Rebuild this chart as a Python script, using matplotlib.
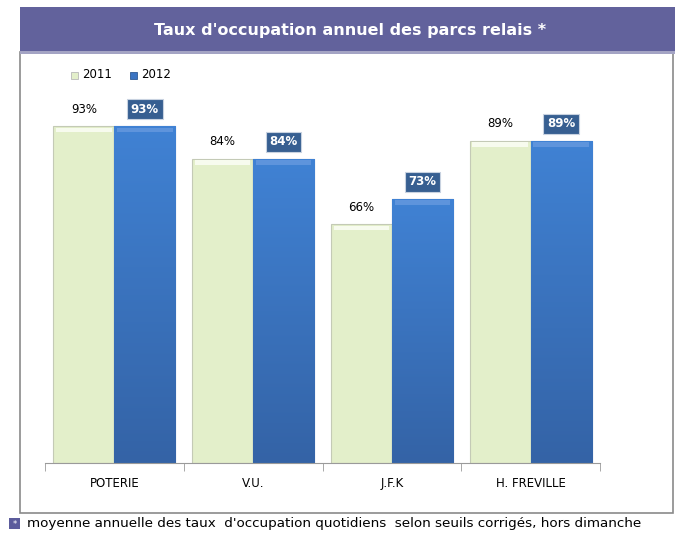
import numpy as np
import matplotlib
matplotlib.use("Agg")
import matplotlib.pyplot as plt
from matplotlib.patches import Rectangle
from matplotlib.colors import LinearSegmentedColormap

categories = ["POTERIE", "V.U.", "J.F.K", "H. FREVILLE"]
series_names = ["2011", "2012"]
vals_2011 = [93, 84, 66, 89]
vals_2012 = [93, 84, 73, 89]

title = "Taux d'occupation annuel des parcs relais *"
footnote = "moyenne annuelle des taux  d'occupation quotidiens  selon seuils corrigés, hors dimanche"

C_2011 = "#e3efca"
C_2012 = "#3b74c2"
C_BOX = "#375f91"
C_BANNER = "#62629c"
blue_grad = LinearSegmentedColormap.from_list("bg", ["#3463a6", "#4082d4"])

fig = plt.figure(figsize=(6.75, 5.34), dpi=100)

# frame + title banner (behind the axes)
fig.patches.append(Rectangle((20/675, 21/534), 653/675, 461/534, transform=fig.transFigure,
                             facecolor="none", edgecolor="#8a8a8a", lw=1.2, zorder=-1))
fig.patches.append(Rectangle((20/675, 482/534), 655/675, 45/534, transform=fig.transFigure,
                             facecolor=C_BANNER, edgecolor="none", zorder=-1))
fig.patches.append(Rectangle((20/675, 480/534), 655/675, 3/534, transform=fig.transFigure,
                             facecolor="#a4a4c4", edgecolor="none", zorder=-1))
fig.text(350/675, 1 - 30/534, title, color="white", fontsize=11.5, fontweight="bold",
         ha="center", va="center")

ax = fig.add_axes([45/675, 71/534, 555/675, 362/534])
ax.set_facecolor("none")

x = np.arange(len(categories))
w = 0.44
b1 = ax.bar(x - w/2, vals_2011, w, color=C_2011, edgecolor="#c4cab6", lw=0.8, zorder=2)
b2 = ax.bar(x + w/2, vals_2012, w, color=C_2012, edgecolor="#2f5a94", lw=0.8, zorder=2)

# vertical gradient on the 2012 bars
grad = np.linspace(0, 1, 256).reshape(-1, 1)
for r in b2:
    x0, h = r.get_x(), r.get_height()
    im = ax.imshow(grad, cmap=blue_grad, origin="lower", aspect="auto",
                   extent=(x0, x0 + r.get_width(), 0, h), zorder=2.5)
    im.set_clip_path(r)

# small highlight on top of bars
for bars, hc in [(b1, "#f7fbee"), (b2, "#5e94dc")]:
    for r in bars:
        ax.add_patch(Rectangle((r.get_x() + 0.02, r.get_height() - 1.6), r.get_width() - 0.04, 1.2,
                               facecolor=hc, edgecolor="none", zorder=3))

for xi, v in zip(x, vals_2011):
    ax.text(xi - w/2, v + 4.7, f"{v}%", ha="center", va="center", fontsize=8.5, color="black")
for xi, v in zip(x, vals_2012):
    ax.text(xi + w/2, v + 4.7, f"{v}%", ha="center", va="center", fontsize=8.5, color="white",
            fontweight="bold",
            bbox=dict(boxstyle="square,pad=0.3", facecolor=C_BOX, edgecolor="#c8d2e0", lw=0.8))

ax.set_xlim(-0.5, len(categories) - 0.5)
ax.set_ylim(0, 100)
for s in ["left", "right", "top"]:
    ax.spines[s].set_visible(False)
ax.spines["bottom"].set_color("#9a9a9a")
ax.set_yticks([])
ax.set_xticks(x)
ax.set_xticklabels(categories, fontsize=8.5)
ax.tick_params(axis="x", which="major", length=0, pad=10)
ax.set_xticks(np.arange(len(categories) + 1) - 0.5, minor=True)
ax.tick_params(axis="x", which="minor", length=6, color="#9a9a9a")

# legend
fig.patches.append(Rectangle((71/675, 1 - 79/534), 7/675, 7/534, transform=fig.transFigure,
                             facecolor=C_2011, edgecolor="#b8b8b8", lw=0.6))
fig.text(82/675, 1 - 75/534, series_names[0], fontsize=8.5, va="center")
fig.patches.append(Rectangle((130/675, 1 - 79/534), 7/675, 7/534, transform=fig.transFigure,
                             facecolor=C_2012, edgecolor="#2f5a94", lw=0.6))
fig.text(141/675, 1 - 75/534, series_names[1], fontsize=8.5, va="center")

# footnote
fig.patches.append(Rectangle((9/675, 1 - 529/534), 11/675, 11/534, transform=fig.transFigure,
                             facecolor="#5c5c9c", edgecolor="none"))
fig.text(14.5/675, 1 - 524/534, "*", color="white", fontsize=6, ha="center", va="center")
fig.text(27/675, 1 - 523/534, footnote, fontsize=9.7, va="center")

fig.savefig("out.png", dpi=100)
